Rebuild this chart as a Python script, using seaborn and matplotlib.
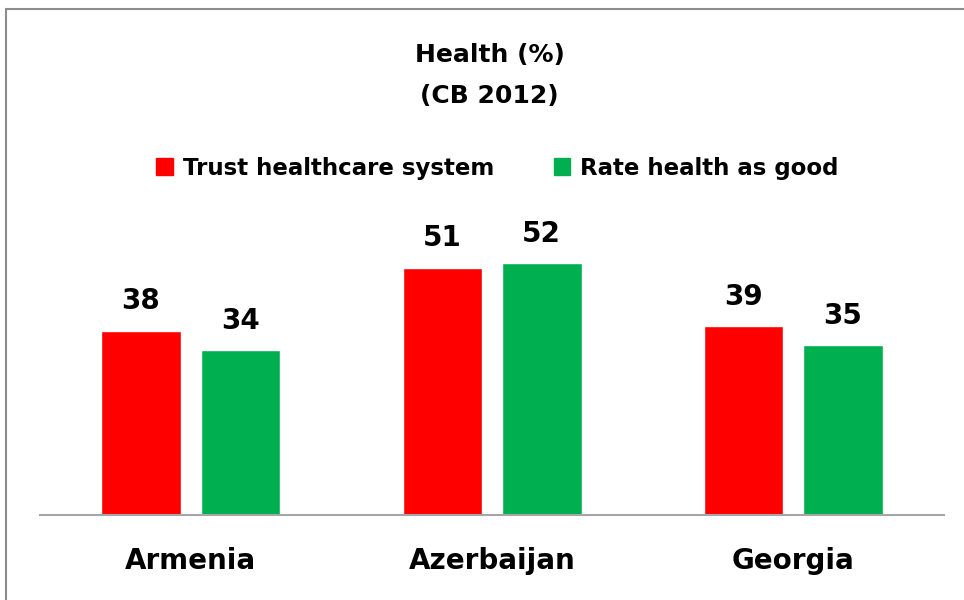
import matplotlib
matplotlib.use("Agg")
import matplotlib.pyplot as plt
import seaborn as sns
import pandas as pd
from matplotlib.patches import Rectangle

countries = ["Armenia", "Azerbaijan", "Georgia"]
series = ["Trust healthcare system", "Rate health as good"]
trust = [38, 51, 39]
rate_good = [34, 52, 35]

RED = "#FF0000"
GREEN = "#00B050"
AXIS_GREY = "#A6A6A6"

df = pd.DataFrame({
    "country": countries * 2,
    "series": [series[0]] * 3 + [series[1]] * 3,
    "value": trust + rate_good,
})

sns.set_theme(style="white")
plt.rcParams["font.family"] = ["DejaVu Sans"]
plt.rcParams["text.color"] = "black"
plt.rcParams["xtick.color"] = "black"

fig = plt.figure(figsize=(9.64, 6.0), dpi=100, facecolor="white")
ax = fig.add_axes([0.0415, 0.1417, 0.9378, 0.485])

sns.barplot(data=df, x="country", y="value", hue="series", order=countries,
            hue_order=series, palette=[RED, GREEN], width=0.66, gap=0.2,
            saturation=1, ax=ax, legend=False)

ax.set_xlim(-0.5, 2.5)
ax.set_ylim(0, 60)
ax.set_xlabel("")
ax.set_ylabel("")
ax.set_yticks([])
for s in ["top", "left", "right"]:
    ax.spines[s].set_visible(False)
ax.spines["bottom"].set_color(AXIS_GREY)
ax.spines["bottom"].set_linewidth(1.5)
ax.tick_params(axis="x", length=0, pad=23, labelsize=20, labelcolor="black")
for lbl in ax.get_xticklabels():
    lbl.set_fontweight("bold")

for cont in ax.containers:
    ax.bar_label(cont, fmt="%d", padding=11, fontsize=20, fontweight="bold", color="black")

fig.text(0.508, 0.897, "Health (%)", ha="center", va="baseline", fontsize=18, fontweight="bold")
fig.text(0.508, 0.829, "(CB 2012)", ha="center", va="baseline", fontsize=18, fontweight="bold")

# legend
handles = [Rectangle((0, 0), 1, 1, color=c) for c in (RED, GREEN)]
fig.legend(handles, series, loc="center", bbox_to_anchor=(0.516, 0.72), ncol=2,
           frameon=False, prop={"size": 16.5, "weight": "bold"},
           handlelength=0.7, handleheight=0.7, handletextpad=0.45, columnspacing=2.6)

# chart border (right/bottom edges fall outside the image, as in the reference)
fig.patches.append(Rectangle((6 / 964, -0.05), 1.05, 1.05 - 9 / 600,
                             transform=fig.transFigure, fill=False,
                             edgecolor="#8C8C8C", linewidth=1.5))

fig.savefig("out.png", dpi=100, facecolor="white")
